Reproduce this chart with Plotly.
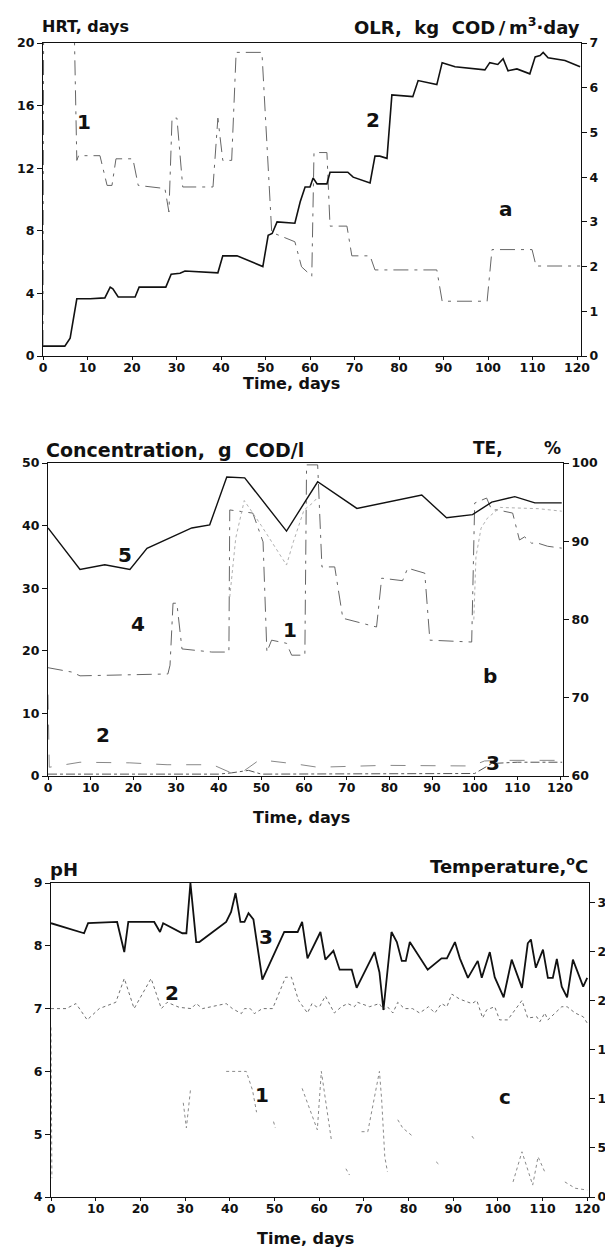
import plotly.graph_objects as go

W, H = 605, 1253

# ---------------- Panel a ----------------
hrt_day = [0, 0.2, 6.4, 7.6, 8.0, 12.8, 14.4, 15.5, 16.4, 20.2, 21.4, 27.4, 28.3, 29.0, 30.1, 31.4,
           38.2, 39.3, 40.4, 42.4, 43.4, 49.2, 51.4, 56.6, 58.1, 60.4, 60.9, 63.8, 64.5, 68.3, 69.4,
           73.5, 74.6, 88.5, 89.7, 99.8, 100.9, 109.9, 110.8, 120.7]
hrt_val = [0.7, 30, 30, 12.5, 12.8, 12.8, 10.9, 10.9, 12.6, 12.6, 10.9, 10.7, 9.2, 15.2, 15.2, 10.8,
           10.8, 15.2, 12.5, 12.5, 19.4, 19.4, 7.9, 7.3, 5.7, 5.1, 13.0, 13.0, 8.3, 8.3, 6.4,
           6.4, 5.5, 5.5, 3.5, 3.5, 6.8, 6.8, 5.75, 5.75]

olr_day = [0, 4.9, 6.1, 7.6, 10.6, 13.9, 15.1, 15.7, 16.9, 20.7, 21.6, 27.6, 28.8, 30.8, 31.9, 39.3,
           40.4, 43.6, 49.4, 50.6, 51.5, 52.6, 56.6, 57.8, 58.9, 60.0, 60.7, 61.6, 63.8, 64.5, 68.5,
           69.7, 73.5, 74.6, 75.7, 77.3, 78.4, 83.1, 84.3, 88.5, 89.7, 92.6, 99.3, 100.4, 102.2,
           103.4, 104.5, 106.5, 109.4, 110.6, 111.7, 112.4, 113.5, 117.3, 120.7]
olr_val = [0.22, 0.22, 0.40, 1.28, 1.28, 1.30, 1.54, 1.50, 1.32, 1.32, 1.54, 1.54, 1.83, 1.85, 1.90, 1.86,
           2.24, 2.24, 2.00, 2.70, 2.74, 3.00, 2.97, 3.45, 3.78, 3.78, 3.98, 3.85, 3.85, 4.11, 4.11,
           4.00, 3.87, 4.47, 4.47, 4.42, 5.84, 5.80, 6.16, 6.07, 6.56, 6.47, 6.40, 6.56, 6.52,
           6.65, 6.38, 6.42, 6.31, 6.69, 6.72, 6.79, 6.67, 6.61, 6.47]

# ---------------- Panel b ----------------
s1_day = [0, 5.6, 7.5, 28.1, 28.6, 29.3, 30.2, 31.4, 38.4, 42.4, 42.6, 46.1, 48.0, 50.4, 51.3, 52.4,
          55.9, 57.1, 60.2, 60.6, 63.2, 64.2, 67.2, 69.1, 77.0, 78.2, 83.1, 84.3, 88.3, 89.5, 99.3,
          100.0, 102.8, 104.0, 105.4, 108.9, 110.5, 111.7, 113.3, 114.8, 117.1, 120.4]
s1_val = [17.3, 16.6, 16.0, 16.3, 17.7, 27.6, 27.6, 20.3, 19.8, 19.8, 42.5, 42.2, 42.0, 37.4, 19.8, 21.7,
          21.2, 19.3, 19.3, 49.7, 49.7, 33.4, 33.4, 25.2, 23.8, 31.6, 31.2, 33.2, 32.4, 21.7, 21.4,
          43.6, 44.4, 42.5, 42.5, 42.0, 37.7, 38.2, 37.2, 37.2, 36.7, 36.4]

s2_day = [0, 0.3, 7.5, 19.2, 27.9, 38.6, 42.6, 46.1, 49.6, 55.0, 58.3, 63.2, 78.9, 99.3, 102.3, 106.3, 119.4, 120.5]
s2_val = [13.0, 1.4, 2.2, 2.1, 1.8, 1.8, 0.6, 0.9, 2.6, 2.2, 1.9, 1.4, 1.7, 1.6, 2.4, 2.5, 2.5, 2.5]

s3_day = [0, 40, 43, 47, 50, 70, 100, 104, 110, 120.5]
s3_val = [0.3, 0.3, 0.5, 0.9, 0.3, 0.3, 0.4, 2.0, 2.2, 2.2]

s4_day = [42.6, 44.0, 46.0, 50.0, 55.9, 57.5, 60.0, 62.0, 63.2, None,
          99.8, 100.3, 101.5, 103.0, 106.0, 115.0, 120.4]
s4_val = [28.6, 38.0, 44.0, 40.0, 33.7, 37.4, 42.5, 43.6, 44.5, None,
          25.0, 35.0, 39.6, 41.2, 42.9, 42.7, 42.3]

te_day = [0, 7.5, 13.3, 19.2, 23.2, 29.3, 33.7, 37.9, 41.9, 46.1, 55.9, 63.2, 72.4, 87.6, 93.4,
          99.5, 104.0, 109.4, 114.1, 120.4]
te_val = [91.7, 86.4, 87.0, 86.4, 89.1, 90.6, 91.7, 92.1, 98.2, 98.1, 91.3, 97.6, 94.2, 95.9, 93.0,
          93.4, 95.0, 95.7, 94.9, 94.9]

# ---------------- Panel c ----------------
ph3_day = [0, 7.4, 8.3, 14.8, 16.4, 17.3, 23.1, 24.4, 25.1, 29.4, 30.3, 31.2, 32.5, 33.2, 39.2, 40.3,
           41.3, 42.4, 43.3, 44.2, 45.3, 47.3, 52.2, 55.2, 56.2, 57.4, 60.3, 61.4, 63.2, 64.6, 67.3,
           68.4, 72.4, 73.5, 74.4, 76.2, 77.4, 78.5, 79.4, 80.3, 84.3, 87.4, 88.6, 90.4, 91.5, 93.3,
           95.5, 96.4, 98.2, 99.3, 101.3, 103.1, 105.4, 106.7, 107.4, 108.5, 110.1, 111.2, 112.3,
           113.2, 114.3, 115.5, 116.8, 119.1, 120.0]
ph3_val = [8.36, 8.2, 8.36, 8.38, 7.9, 8.38, 8.38, 8.22, 8.36, 8.2, 8.2, 9.0, 8.06, 8.06, 8.38, 8.54,
           8.84, 8.38, 8.38, 8.52, 8.42, 7.46, 8.22, 8.22, 8.38, 7.8, 8.22, 7.78, 7.92, 7.62, 7.62,
           7.33, 7.9, 7.58, 6.98, 8.22, 8.06, 7.76, 7.76, 8.06, 7.62, 7.8, 7.8, 8.06, 7.8, 7.49,
           7.76, 7.49, 7.9, 7.5, 7.18, 7.78, 7.33, 8.04, 8.1, 7.65, 7.94, 7.49, 7.49,
           7.79, 7.35, 7.18, 7.78, 7.35, 7.49]

ph2_day = [0, 3.4, 5.6, 8.1, 10.8, 14.5, 16.4, 18.6, 22.4, 24.7, 26.0, 28.7, 31.4, 32.5, 33.9, 39.2,
           40.6, 42.6, 43.3, 44.6, 45.5, 47.3, 49.6, 52.5, 53.8, 55.4, 57.4, 58.4, 59.4, 60.1, 61.4,
           63.4, 65.0, 66.4, 67.9, 68.6, 71.3, 73.5, 74.4, 75.3, 76.5, 77.6, 79.1, 80.9, 82.5, 84.5,
           85.9, 87.4, 88.6, 89.7, 91.5, 94.2, 95.3, 96.6, 97.5, 99.3, 100.4, 102.2, 105.4, 106.7,
           108.7, 109.4, 110.5, 111.2, 114.3, 115.5, 117.3, 119.1, 120.0]
ph2_val = [7.0, 7.0, 7.08, 6.82, 7.0, 7.1, 7.48, 7.0, 7.48, 7.0, 7.1, 7.02, 7.0, 7.08, 7.0, 7.08,
           7.0, 6.92, 7.0, 7.0, 6.92, 7.0, 7.0, 7.5, 7.5, 7.13, 6.93, 7.08, 7.03, 7.03, 7.2,
           6.93, 7.03, 7.08, 7.03, 7.1, 7.03, 7.08, 6.98, 7.03, 6.93, 7.1, 7.0, 7.0, 6.93, 7.03,
           6.93, 7.08, 7.03, 7.23, 7.15, 7.08, 7.13, 6.85, 6.98, 7.03, 6.82, 6.82, 7.13, 6.85,
           6.87, 6.79, 6.93, 6.82, 7.03, 7.03, 6.93, 6.87, 6.77]

# sparse dotted curve: visible fragments only (None = gap in the scan)
ph1_day = [0, 0.2, None, 29.6, 30.3, 31.2, None, 39.2, 43.7, 45.1, 46.0, None, 49.8, 50.2, None,
           56.2, 59.6, 60.5, 62.8, None, 66.0, 66.8, None, 69.5, 70.9, 73.5, 74.0, 74.7, 75.3, None,
           77.6, 78.7, 80.9, None, 86.2, 86.8, None, 94.2, 94.6, None,
           103.4, 105.4, 107.8, 109.0, 110.5, None, 115.0, 117.3, 120.0]
ph1_val = [6.7, 4.3, None, 5.5, 5.1, 5.7, None, 6.0, 6.0, 5.7, 5.35, None, 5.2, 5.1, None,
           5.73, 5.07, 6.0, 4.88, None, 4.45, 4.35, None, 5.04, 5.04, 6.0, 5.55, 4.64, 4.4, None,
           5.23, 5.1, 4.97, None, 4.56, 4.52, None, 4.97, 4.93, None,
           4.24, 4.72, 4.19, 4.64, 4.4, None, 4.24, 4.14, 4.11]

x_ticks = list(range(0, 121, 10))

FONT = "DejaVu Sans"
BLACK = "#111111"
GREY = "#555555"


def py(p):
    return 1 - p / H


def px(p):
    return p / W


fig = go.Figure()

# Panel a traces
fig.add_trace(go.Scatter(x=hrt_day, y=hrt_val, xaxis="x", yaxis="y", mode="lines",
                         line=dict(color="#666666", width=1, dash="longdashdot"), name="1 HRT"))
fig.add_trace(go.Scatter(x=olr_day, y=olr_val, xaxis="x", yaxis="y2", mode="lines",
                         line=dict(color=BLACK, width=1.6), name="2 OLR"))
# Panel b traces
fig.add_trace(go.Scatter(x=s1_day, y=s1_val, xaxis="x2", yaxis="y3", mode="lines",
                         line=dict(color="#666666", width=1, dash="longdashdot"), name="1"))
fig.add_trace(go.Scatter(x=s2_day, y=s2_val, xaxis="x2", yaxis="y3", mode="lines",
                         line=dict(color="#888888", width=1, dash="longdash"), name="2"))
fig.add_trace(go.Scatter(x=s3_day, y=s3_val, xaxis="x2", yaxis="y3", mode="lines",
                         line=dict(color=GREY, width=1, dash="dashdot"), name="3"))
fig.add_trace(go.Scatter(x=s4_day, y=s4_val, xaxis="x2", yaxis="y3", mode="lines",
                         line=dict(color="#b0b0b0", width=1, dash="dot"), name="4",
                         connectgaps=False))
fig.add_trace(go.Scatter(x=te_day, y=te_val, xaxis="x2", yaxis="y4", mode="lines",
                         line=dict(color=BLACK, width=1.4), name="5 TE"))
# Panel c traces
fig.add_trace(go.Scatter(x=ph1_day, y=ph1_val, xaxis="x3", yaxis="y5", mode="lines",
                         line=dict(color="#8a8a8a", width=1, dash="dot"), name="1",
                         connectgaps=False))
fig.add_trace(go.Scatter(x=ph2_day, y=ph2_val, xaxis="x3", yaxis="y5", mode="lines",
                         line=dict(color="#707070", width=1, dash="dot"), name="2"))
fig.add_trace(go.Scatter(x=ph3_day, y=ph3_val, xaxis="x3", yaxis="y5", mode="lines",
                         line=dict(color=BLACK, width=1.8), name="3"))
fig.add_trace(go.Scatter(x=[], y=[], xaxis="x3", yaxis="y6", mode="lines", showlegend=False))

tickfont = dict(family=FONT, size=12.5, color=BLACK, weight="bold")


def xax(dom, yanchor, rng):
    return dict(domain=dom, anchor=yanchor, range=rng, tickvals=x_ticks, ticks="outside",
                ticklen=3, tickwidth=1, tickcolor=BLACK, showline=True, linecolor=BLACK,
                linewidth=1.2, mirror=True, showgrid=False, zeroline=False, tickfont=tickfont,
                ticklabelstandoff=-3, automargin=False)


def yax(dom, xanchor, rng, dtick, side="left", overlay=None, t0=None):
    d = dict(anchor=xanchor, range=rng, dtick=dtick, ticks="outside", ticklen=5,
             tickwidth=1, tickcolor=BLACK, showline=True, linecolor=BLACK, linewidth=1.2,
             showgrid=False, zeroline=False, tickfont=tickfont, side=side, automargin=False)
    if t0 is not None:
        d["tick0"] = t0
    if overlay:
        d["overlaying"] = overlay
    else:
        d["domain"] = dom
    return d


fig.update_layout(
    template="none",
    width=W, height=H, margin=dict(l=0, r=0, t=0, b=0, pad=0), autosize=False,
    paper_bgcolor="white", plot_bgcolor="white", showlegend=False,
    xaxis=xax([px(43), px(581)], "y", [0, 120.9]),
    yaxis=yax([py(356), py(43)], "x", [0, 20], 4),
    yaxis2=yax(None, "x", [0, 7], 1, side="right", overlay="y"),
    xaxis2=xax([px(48), px(563)], "y3", [0, 120.7]),
    yaxis3=yax([py(776), py(463)], "x2", [0, 50], 10),
    yaxis4=yax(None, "x2", [60, 100], 10, side="right", overlay="y3"),
    xaxis3=xax([px(51), px(589)], "y5", [0, 120.4]),
    yaxis5=yax([py(1197), py(883)], "x3", [4, 9], 1),
    yaxis6=yax(None, "x3", [0, 32], 5, side="right", overlay="y5", t0=0),
)


def tf(size):
    return dict(family=FONT, size=size, color=BLACK, weight="bold")


NB = "\u00a0"
ann = [
    # panel a
    ("HRT, days", 40, 27, "left", tf(16)),
    ("OLR," + NB * 2 + "kg" + NB * 2 + "COD\u2009/\u2009m<sup>3</sup>·day", 582, 26, "right", tf(18)),
    ("Time, days", 291, 383, "center", tf(16)),
    ("1", 84, 122, "center", tf(20)),
    ("2", 373, 120, "center", tf(20)),
    ("a", 506, 209, "center", tf(20)),
    # panel b
    ("Concentration," + NB * 2 + "g" + NB * 2 + "COD/l", 44, 450, "left", tf(19)),
    ("TE," + NB * 7 + "%", 563, 448, "right", tf(17)),
    ("Time, days", 301, 817, "center", tf(16)),
    ("5", 125, 555, "center", tf(20)),
    ("4", 138, 624, "center", tf(20)),
    ("1", 290, 630, "center", tf(20)),
    ("2", 103, 735, "center", tf(20)),
    ("b", 490, 676, "center", tf(20)),
    ("3", 493, 763, "center", tf(20)),
    # panel c
    ("pH", 48, 869, "left", tf(18)),
    ("Temperature,<sup>o</sup>C", 590, 865, "right", tf(18)),
    ("Time, days", 305, 1238, "center", tf(16)),
    ("3", 266, 937, "center", tf(20)),
    ("2", 172, 993, "center", tf(20)),
    ("1", 262, 1095, "center", tf(20)),
    ("c", 505, 1097, "center", tf(20)),
]
for text, x, y, xa, f in ann:
    fig.add_annotation(text=text, x=px(x), y=py(y), xref="paper", yref="paper",
                       xanchor=xa, yanchor="middle", showarrow=False, font=f)

fig.write_html("out.html", config={"displayModeBar": False},
               post_script="document.body.style.margin='0';document.body.style.overflow='hidden';")
